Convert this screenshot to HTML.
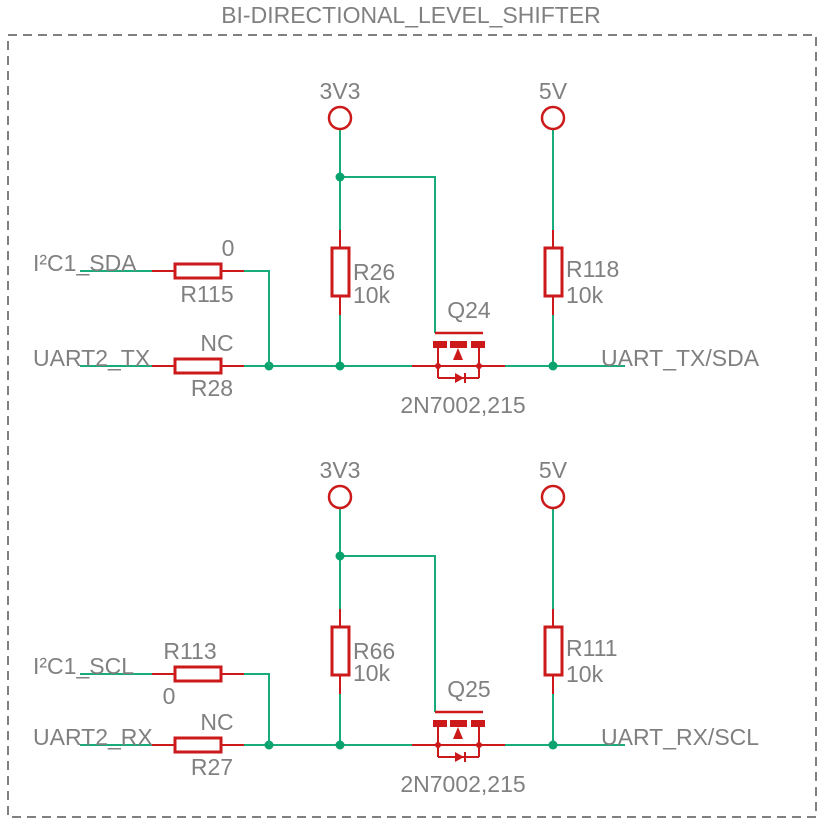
<!DOCTYPE html>
<html><head><meta charset="utf-8"><style>
html,body{margin:0;padding:0;background:#fff}
svg{display:block}
text{font-family:"Liberation Sans",sans-serif;font-size:23px;fill:#808080;dominant-baseline:middle}
</style></head><body>
<svg width="826" height="825" viewBox="0 0 826 825" xmlns="http://www.w3.org/2000/svg">
<rect x="8" y="35" width="808" height="782" fill="none" stroke="#808080" stroke-width="2" stroke-dasharray="9,6"/>
<text x="411" y="17" text-anchor="middle">BI-DIRECTIONAL_LEVEL_SHIFTER</text>
<defs>
<g id="sec">
 <g stroke="#1aab7a" stroke-width="2" fill="none">
  <line x1="340" y1="129" x2="340" y2="230"/>
  <line x1="340" y1="315" x2="340" y2="366"/>
  <polyline points="340,177 435,177 435,333"/>
  <line x1="553" y1="129" x2="553" y2="230"/>
  <line x1="553" y1="315" x2="553" y2="366"/>
  <line x1="80" y1="366" x2="152" y2="366"/>
  <line x1="244" y1="366" x2="412" y2="366"/>
  <line x1="505" y1="366" x2="625" y2="366"/>
 </g>
 <g fill="#0aa36d">
  <circle cx="340" cy="177" r="4.5"/><circle cx="269" cy="366" r="4.5"/>
  <circle cx="340" cy="366" r="4.5"/><circle cx="553" cy="366" r="4.5"/>
 </g>
 <g stroke="#cc1a1a" stroke-width="2" fill="none">
  <circle cx="340" cy="118" r="11" stroke-width="2.5"/>
  <circle cx="553" cy="118" r="11" stroke-width="2.5"/>
  <line x1="340" y1="230" x2="340" y2="248"/><line x1="340" y1="296" x2="340" y2="315"/>
  <rect x="332" y="248" width="17" height="48" stroke-width="3"/>
  <line x1="553" y1="230" x2="553" y2="248"/><line x1="553" y1="296" x2="553" y2="315"/>
  <rect x="545" y="248" width="17" height="48" stroke-width="3"/>
  <line x1="152" y1="366" x2="175" y2="366"/><line x1="221" y1="366" x2="244" y2="366"/>
  <rect x="175" y="359" width="46" height="14" stroke-width="3"/>
  <line x1="435" y1="333" x2="483" y2="333" stroke-width="2.5"/>
  <line x1="412" y1="366" x2="505" y2="366"/>
  <line x1="438" y1="347" x2="438" y2="378"/>
  <line x1="479" y1="347" x2="479" y2="378"/>
  <polyline points="438,378 479,378"/>
 </g>
 <g fill="#cc1a1a">
  <rect x="433" y="341" width="14" height="7"/><rect x="450" y="341" width="17" height="7"/><rect x="471" y="341" width="14" height="7"/>
  <polygon points="458,348 453,360 463,360"/>
  <polygon points="455,373 455,383 464,378"/><rect x="464" y="373" width="2" height="10"/>
  <circle cx="438" cy="366" r="3"/><circle cx="479" cy="366" r="3"/>
 </g>
 <text x="340" y="93" text-anchor="middle">3V3</text>
 <text x="553" y="93" text-anchor="middle">5V</text>
 <text x="217" y="345" text-anchor="middle">NC</text>
</g>
</defs>
<use href="#sec"/>
<use href="#sec" transform="translate(0,379)"/>
<g stroke="#1aab7a" stroke-width="2" fill="none">
 <line x1="80" y1="271" x2="152" y2="271"/><polyline points="244,271 269,271 269,366"/>
 <line x1="80" y1="674" x2="152" y2="674"/><polyline points="244,674 269,674 269,745"/>
</g>
<g stroke="#cc1a1a" stroke-width="2" fill="none">
 <line x1="152" y1="271" x2="175" y2="271"/><line x1="221" y1="271" x2="244" y2="271"/>
 <rect x="175" y="264" width="46" height="14" stroke-width="3"/>
 <line x1="152" y1="674" x2="175" y2="674"/><line x1="221" y1="674" x2="244" y2="674"/>
 <rect x="175" y="667" width="46" height="14" stroke-width="3"/>
</g>
<text x="33" y="265">I²C1_SDA</text>
<text x="228" y="250" text-anchor="middle">0</text>
<text x="207" y="296" text-anchor="middle">R115</text>
<text x="33" y="360">UART2_TX</text>
<text x="601" y="360">UART_TX/SDA</text>
<text x="212" y="390" text-anchor="middle">R28</text>
<text x="353" y="274">R26</text><text x="353" y="297">10k</text>
<text x="566" y="271">R118</text><text x="566" y="297">10k</text>
<text x="469" y="312" text-anchor="middle">Q24</text>
<text x="463" y="407" text-anchor="middle">2N7002,215</text>
<text x="33" y="668">I²C1_SCL</text>
<text x="190" y="653" text-anchor="middle">R113</text>
<text x="169" y="698" text-anchor="middle">0</text>
<text x="33" y="739">UART2_RX</text>
<text x="601" y="739">UART_RX/SCL</text>
<text x="212" y="769" text-anchor="middle">R27</text>
<text x="353" y="653">R66</text><text x="353" y="675">10k</text>
<text x="566" y="650">R111</text><text x="566" y="676">10k</text>
<text x="469" y="691" text-anchor="middle">Q25</text>
<text x="463" y="786" text-anchor="middle">2N7002,215</text>
</svg>
</body></html>
